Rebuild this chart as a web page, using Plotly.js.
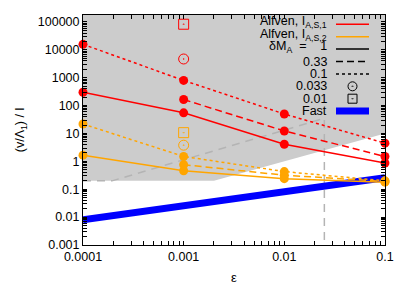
<!DOCTYPE html>
<html>
<head>
<meta charset="utf-8">
<script src="https://cdn.plot.ly/plotly-3.0.1.min.js"></script>
<style>html,body{margin:0;padding:0;background:#fff;}#chart{width:407px;height:285px;}</style>
</head>
<body>
<div id="chart"></div>
<script>
// ---- data ----
var eps4 = [0.0001, 0.001, 0.01, 0.1];
var eps3 = [0.001, 0.01, 0.1];
var eps1 = [0.001];

// Alfven, I_A,S,1 (red)
var red_dM1 = [300, 55, 4.1, 0.87];
var red_dM033 = [165, 12.3, 1.5];
var red_dM01 = [15800, 800, 50, 4.5];
var red_dM0033 = [4700];
var red_dM001 = [83000];

// Alfven, I_A,S,2 (orange)
var org_dM1 = [1.67, 0.46, 0.24, 0.18];
var org_dM033 = [0.76, 0.32, 0.19];
var org_dM01 = [21.8, 1.5, 0.43, 0.2];
var org_dM0033 = [3.8];
var org_dM001 = [10.7];

// Fast
var fast = [0.008, 0.026, 0.08, 0.26];

// shaded region and guide lines
var shadeX = [0.0001, 0.002, 0.1, 0.1, 0.0001];
var shadeY = [0.2, 0.2, 10, 1e7, 1e7];
var guideX = [0.0001, 0.000194, 0.025, 0.025];
var guideY = [0.2, 0.2, 35, 0.0001];

var xTicks = [0.0001, 0.001, 0.01, 0.1];
var xTickText = ['0.0001', '0.001', '0.01', '0.1'];
var yTicks = [0.001, 0.01, 0.1, 1, 10, 100, 1000, 10000, 100000];
var yTickText = ['0.001', '0.01', '0.1', '1', '10', '100', '1000', '10000', '100000'];

var legendLabels = ['Alfven, I<sub>A,S,1</sub>', 'Alfven, I<sub>A,S,2</sub>',
  'δM<sub>A</sub>\u00a0\u00a0=\u00a0\u00a0\u00a0\u00a01', '0.33', '0.1', '0.033', '0.01', 'Fast'];

// major + unlabeled minor ticks (2..9 within each decade)
function withMinor(majors, labels, maxVal) {
  var vals = majors.slice(), text = labels.slice();
  majors.forEach(function (d) {
    for (var k = 2; k <= 9; k++) {
      if (k * d < maxVal) { vals.push(k * d); text.push(''); }
    }
  });
  return {vals: vals, text: text};
}
var xT = withMinor(xTicks, xTickText, 0.1);
var yT = withMinor(yTicks, yTickText, 1.7e5);

// ---- styles ----
var RED = '#ff0000', ORG = '#ffa500', BLUE = '#0000ff';
var DASH = '7px,4px', DOT = '3px,3px';
var FONT = 'Liberation Sans, Arial, sans-serif';
var XR = [-4, -0.9995], YR = [-3, 5.25];

function lineTrace(x, y, color, dash) {
  return {x: x, y: y, type: 'scatter', mode: 'lines+markers', cliponaxis: false,
    line: {color: color, width: 1.5, dash: dash},
    marker: {color: color, size: 9, symbol: 'circle'},
    showlegend: false, hoverinfo: 'skip'};
}
function symTrace(x, y, color, sym) {
  return {x: x, y: y, type: 'scatter', mode: 'markers', cliponaxis: false,
    marker: {color: color, size: 10, symbol: sym, line: {color: color, width: 1}},
    showlegend: false, hoverinfo: 'skip'};
}

var traces = [
  {x: shadeX, y: shadeY, type: 'scatter', mode: 'lines', fill: 'toself',
    fillcolor: '#cccccc', line: {width: 0, color: 'rgba(0,0,0,0)'}, showlegend: false, hoverinfo: 'skip'},
  {x: guideX, y: guideY, type: 'scatter', mode: 'lines',
    line: {color: '#b4b4b4', width: 1.5, dash: '8px,6px'}, showlegend: false, hoverinfo: 'skip'},
  {x: eps4, y: fast, type: 'scatter', mode: 'lines',
    line: {color: BLUE, width: 7}, showlegend: false, hoverinfo: 'skip'},
  lineTrace(eps4, red_dM1, RED, 'solid'),
  lineTrace(eps3, red_dM033, RED, DASH),
  lineTrace(eps4, red_dM01, RED, DOT),
  symTrace(eps1, red_dM0033, RED, 'circle-open-dot'),
  symTrace(eps1, red_dM001, RED, 'square-open-dot'),
  lineTrace(eps4, org_dM1, ORG, 'solid'),
  lineTrace(eps3, org_dM033, ORG, DASH),
  lineTrace(eps4, org_dM01, ORG, DOT),
  symTrace(eps1, org_dM0033, ORG, 'circle-open-dot'),
  symTrace(eps1, org_dM001, ORG, 'square-open-dot')
];

// ---- hand-drawn legend (gnuplot style: text left, sample right) ----
var L = 83, R = 385, T = 15, B = 245;
function px2x(p) { return (p - L) / (R - L); }
function px2y(p) { return (B - p) / (B - T); }
var rowY = [24.3, 36.7, 49.1, 61.5, 73.9, 86.3, 98.7, 111.1];
var annotations = [], shapes = [];
var sampleStyles = [
  {kind: 'line', color: RED, width: 1.5, dash: 'solid'},
  {kind: 'line', color: ORG, width: 1.5, dash: 'solid'},
  {kind: 'line', color: '#000', width: 1.5, dash: 'solid'},
  {kind: 'line', color: '#000', width: 1.5, dash: DASH},
  {kind: 'line', color: '#000', width: 1.5, dash: DOT},
  {kind: 'circle'},
  {kind: 'square'},
  {kind: 'line', color: BLUE, width: 7, dash: 'solid'}
];
legendLabels.forEach(function (t, i) {
  var hasSub = t.indexOf('<sub>') >= 0;
  annotations.push({xref: 'paper', yref: 'paper', x: px2x(329), y: px2y(rowY[i]),
    xanchor: 'right', yanchor: 'middle', text: t, showarrow: false,
    yshift: hasSub ? 2 : 0,
    font: {family: FONT, size: 12.5, color: '#000'}});
  var s = sampleStyles[i];
  if (s.kind === 'line') {
    shapes.push({type: 'line', xref: 'paper', yref: 'paper', x0: px2x(336), x1: px2x(369),
      y0: px2y(rowY[i]), y1: px2y(rowY[i]), line: {color: s.color, width: s.width, dash: s.dash}});
  }
});
var legendSym = {x: [px2x(352.5), px2x(352.5)], y: [px2y(rowY[5]), px2y(rowY[6])],
  xaxis: 'x2', yaxis: 'y2', type: 'scatter', mode: 'markers',
  marker: {color: '#000', size: 9, symbol: ['circle-open-dot', 'square-open-dot'], line: {color: '#000', width: 1}},
  showlegend: false, hoverinfo: 'skip'};
traces.push(legendSym);

var axisCommon = {
  type: 'log', showgrid: false, zeroline: false, showline: true, linecolor: '#000', linewidth: 1,
  mirror: 'allticks', ticks: 'inside', ticklen: 4, tickcolor: '#000', tickwidth: 1,
  tickfont: {family: FONT, size: 12.5, color: '#000'}
};

var layout = {
  width: 407, height: 285,
  margin: {l: L, r: 407 - R, t: T, b: 285 - B, pad: 0},
  paper_bgcolor: '#fff', plot_bgcolor: '#fff',
  showlegend: false,
  xaxis: Object.assign({}, axisCommon, {
    range: XR, tickmode: 'array', tickvals: xT.vals, ticktext: xT.text,
    title: {text: 'ε', font: {family: FONT, size: 13, color: '#000'}, standoff: 16}
  }),
  yaxis: Object.assign({}, axisCommon, {
    range: YR, tickmode: 'array', tickvals: yT.vals, ticktext: yT.text,
    title: {text: '(v/Λ<sub>1</sub>) / l', font: {family: FONT, size: 12.5, color: '#000'}, standoff: 10}
  }),
  xaxis2: {range: [0, 1], overlaying: 'x', visible: false, fixedrange: true},
  yaxis2: {range: [0, 1], overlaying: 'y', visible: false, fixedrange: true},
  annotations: annotations,
  shapes: shapes
};

Plotly.newPlot('chart', traces, layout, {staticPlot: true, displayModeBar: false});
</script>
</body>
</html>
